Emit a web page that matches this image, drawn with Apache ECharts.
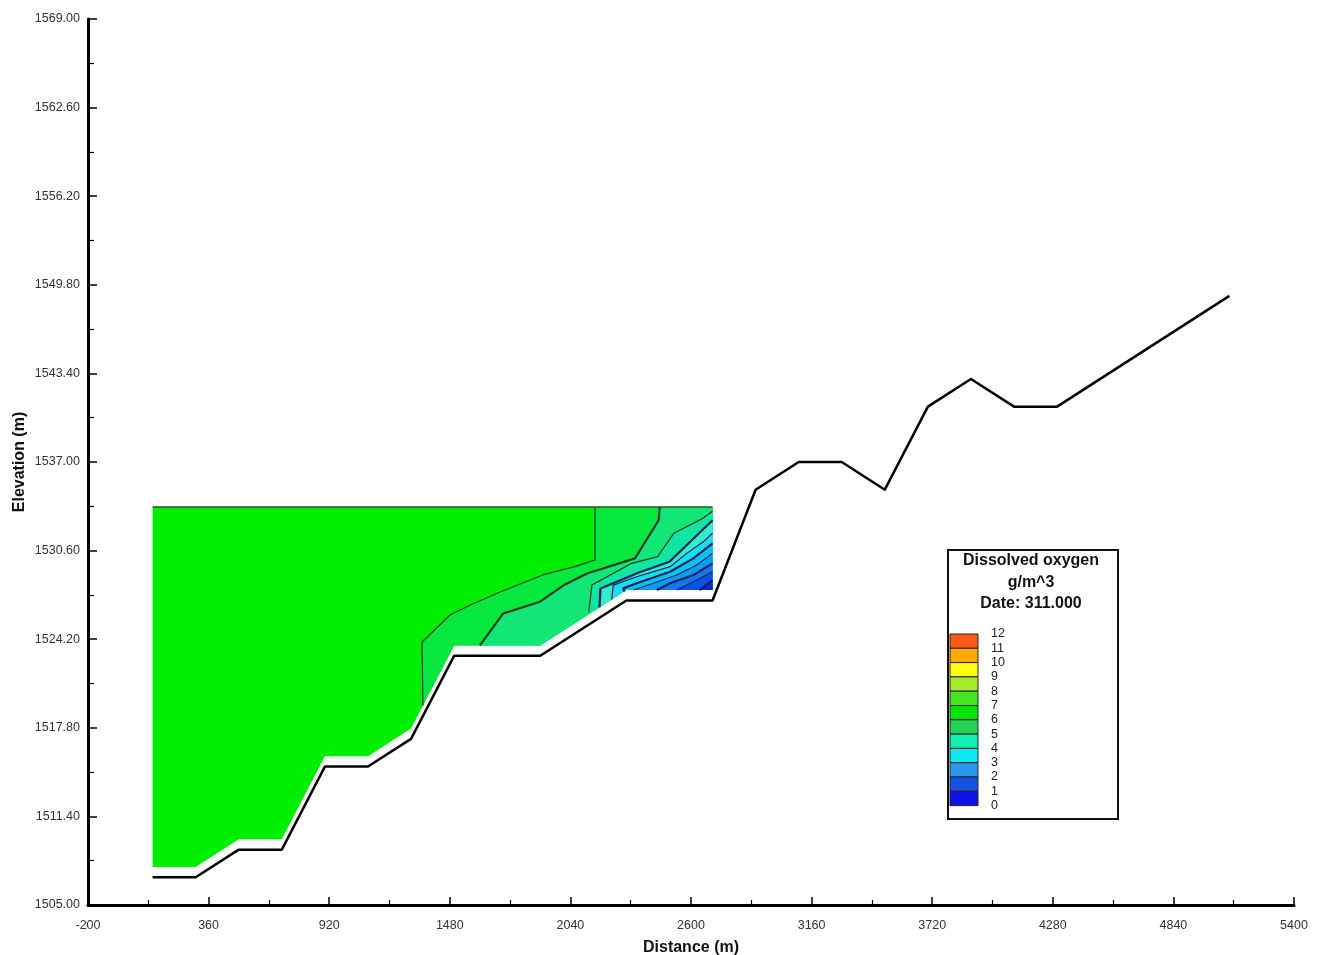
<!DOCTYPE html>
<html>
<head>
<meta charset="utf-8">
<script src="https://cdn.jsdelivr.net/npm/echarts@6/dist/echarts.min.js"></script>
<style>
  html, body { margin: 0; padding: 0; background: #ffffff; }
  #chart { width: 1319px; height: 955px; }
</style>
</head>
<body>
<div id="chart"></div>
<script>
// Longitudinal bed profile of the reservoir (distance m, elevation m)
const bedDistance  = [100, 300, 500, 700, 900, 1100, 1300, 1500, 1900, 2300, 2700, 2900, 3100, 3300, 3500, 3700, 3900, 4100, 4300, 5100];
const bedElevation = [1507, 1507, 1509, 1509, 1515, 1515, 1517, 1523, 1523, 1527, 1527, 1535, 1537, 1537, 1535, 1541, 1543, 1541, 1541, 1549];

// Wetted section: water surface and bottom of the active cells
const waterSurface = 1533.75;
const cellBottomDistance  = [100, 300, 500, 700, 900, 1100, 1300, 1500, 1900, 2300, 2700];
const cellBottomElevation = [1507.75, 1507.75, 1509.75, 1509.75, 1515.75, 1515.75, 1517.75, 1523.75, 1523.75, 1527.75, 1527.75];

// Dissolved oxygen isolines (g/m^3): level, distance and elevation of each vertex
const contourLevels = [6.5, 6, 5.5, 5, 4.5, 4, 3.5, 3, 2.5, 2];
const contourX = [
  [2154, 2154, 2060, 1915, 1713, 1575, 1481, 1351, 1355],
  [2455, 2450, 2340, 2195, 2120, 2010, 1899, 1728, 1620],
  [2700, 2655, 2520, 2445, 2325, 2140, 2125],
  [2700, 2500, 2355, 2180, 2175],
  [2700, 2657, 2580, 2503, 2348, 2239, 2232],
  [2700, 2611, 2503, 2348, 2286, 2290],
  [2700, 2627, 2534, 2425, 2332],
  [2700, 2611, 2503, 2441],
  [2700, 2627, 2534],
  [2700, 2640]
];
const contourY = [
  [1533.75, 1529.92, 1529.44, 1528.86, 1527.61, 1526.67, 1525.95, 1524.0, 1519.4],
  [1533.75, 1532.79, 1530.04, 1529.32, 1528.96, 1528.11, 1526.91, 1526.06, 1523.75],
  [1533.45, 1532.93, 1531.85, 1530.16, 1529.68, 1528.11, 1526.15],
  [1532.79, 1529.80, 1529.0, 1527.87, 1526.50],
  [1531.85, 1531.24, 1530.40, 1529.44, 1528.71, 1528.11, 1527.07],
  [1531.13, 1530.04, 1529.07, 1528.24, 1527.87, 1527.65],
  [1530.40, 1529.56, 1528.84, 1528.24, 1527.75],
  [1529.68, 1528.84, 1528.24, 1527.75],
  [1529.07, 1528.47, 1527.75],
  [1528.47, 1527.75]
];

// Axis tick values
const xTicks = [-200, 360, 920, 1480, 2040, 2600, 3160, 3720, 4280, 4840, 5400];
const xMinorTicks = [80, 640, 1200, 1760, 2320, 2880, 3440, 4000, 4560, 5120];
const yTicks = [1505, 1511.4, 1517.8, 1524.2, 1530.6, 1537, 1543.4, 1549.8, 1556.2, 1562.6, 1569];
const yMinorTicks = [1508.2, 1514.6, 1521, 1527.4, 1533.8, 1540.2, 1546.6, 1553, 1559.4, 1565.8];

// Colour legend
const legendTitle = ['Dissolved oxygen', 'g/m^3', 'Date: 311.000'];
const legendLabels = ['12', '11', '10', '9', '8', '7', '6', '5', '4', '3', '2', '1', '0'];
const legendColors = ['#ff5a14', '#ffa800', '#ffff10', '#a8ea2c', '#44e420', '#06e406', '#22d456', '#10eeb0', '#10e8f2', '#2a98ec', '#1452e8', '#1010ea'];

// Flood colours: above the highest isoline, then each band below an isoline
const fieldColor = '#00ee00';
const bandColors = ['#06e83e', '#12e676', '#10e6a2', '#34eccc', '#1adef0', '#0cc2f0', '#0c9cf0', '#1476ea', '#0c50e6', '#0a2ad8'];

const FONT = '"Liberation Sans", Arial, sans-serif';
const rightEdge = cellBottomDistance[cellBottomDistance.length - 1];

function bandPolygon(k) {
  const xs = contourX[k], ys = contourY[k];
  const pts = xs.map((x, i) => [x, ys[i]]);
  const endX = xs[xs.length - 1];
  // follow the cell bottom downstream to the dam face
  for (let i = 0; i < cellBottomDistance.length; i++) {
    if (cellBottomDistance[i] > endX + 1e-6) pts.push([cellBottomDistance[i], cellBottomElevation[i]]);
  }
  // isolines that start on the surface close through the surface corner
  if (ys[0] >= waterSurface - 1e-6) pts.push([rightEdge, waterSurface]);
  return pts;
}

const waterPolygon = [[cellBottomDistance[0], waterSurface]]
  .concat(cellBottomDistance.map((x, i) => [x, cellBottomElevation[i]]))
  .concat([[rightEdge, waterSurface]]);

function renderFlood(params, api) {
  const c = p => api.coord(p);
  const children = [];
  children.push({ type: 'polygon', shape: { points: waterPolygon.map(c) }, style: { fill: fieldColor } });
  contourLevels.forEach((lv, k) => {
    children.push({ type: 'polygon', shape: { points: bandPolygon(k).map(c) }, style: { fill: bandColors[k] } });
  });
  contourLevels.forEach((lv, k) => {
    const major = Number.isInteger(lv);
    const stroke = lv >= 5.5 ? '#163a22' : '#0a2460';
    children.push({
      type: 'polyline',
      shape: { points: contourX[k].map((x, i) => c([x, contourY[k][i]])) },
      style: { stroke: stroke, lineWidth: major ? 2.2 : 1.2, fill: null, lineJoin: 'round' }
    });
  });
  children.push({
    type: 'polyline',
    shape: { points: [c([cellBottomDistance[0], waterSurface]), c([rightEdge, waterSurface])] },
    style: { stroke: '#1c5a1c', lineWidth: 1.5, fill: null }
  });
  return { type: 'group', children: children };
}

// Legend graphics
const LX = 947, LY = 549, LW = 170, LH = 269;
const boxX = 950, boxW = 28, boxTop = 634, boxH = 14.3;
const legendGraphics = [
  { type: 'rect', left: LX, top: LY, shape: { width: LW, height: LH }, style: { fill: '#fff', stroke: '#111', lineWidth: 2 }, z: 10 }
];
const titleY = [561, 583, 604];
legendTitle.forEach((t, i) => {
  legendGraphics.push({
    type: 'text', x: LX + LW / 2 - 1, y: titleY[i], z: 11,
    style: { text: t, fontFamily: FONT, fontSize: 16, fontWeight: 'bold', fill: '#111', textAlign: 'center', textVerticalAlign: 'middle' }
  });
});
legendColors.forEach((col, i) => {
  legendGraphics.push({
    type: 'rect', x: boxX, y: boxTop + i * boxH, z: 11,
    shape: { width: boxW, height: boxH }, style: { fill: col, stroke: '#222', lineWidth: 1 }
  });
});
legendLabels.forEach((t, i) => {
  legendGraphics.push({
    type: 'text', x: 991, y: boxTop + i * boxH, z: 11,
    style: { text: t, fontFamily: FONT, fontSize: 12.5, fill: '#222', textAlign: 'left', textVerticalAlign: 'middle' }
  });
});

const chart = echarts.init(document.getElementById('chart'), null, { renderer: 'canvas' });

const axisFont = { fontFamily: FONT, fontSize: 12.5, color: '#333' };
const nameFont = { fontFamily: FONT, fontSize: 16, fontWeight: 'bold', color: '#111' };

chart.setOption({
  animation: false,
  backgroundColor: '#ffffff',
  grid: { left: 88, right: 25, top: 19, bottom: 50, containLabel: false, outerBoundsMode: 'none' },
  xAxis: [
    {
      type: 'value', min: -200, max: 5400, position: 'bottom',
      name: 'Distance (m)', nameLocation: 'middle', nameGap: 35, nameTextStyle: nameFont,
      axisLine: { show: true, onZero: false, lineStyle: { color: '#000', width: 3 } },
      axisTick: { show: true, inside: true, length: 8, customValues: xTicks, lineStyle: { color: '#000', width: 1.5 } },
      axisLabel: { show: true, customValues: xTicks, margin: 14, formatter: v => String(v), ...axisFont },
      splitLine: { show: false }
    },
    {
      type: 'value', min: -200, max: 5400, position: 'bottom',
      axisLine: { show: false, onZero: false },
      axisTick: { show: true, inside: true, length: 5, customValues: xMinorTicks, lineStyle: { color: '#000', width: 1.2 } },
      axisLabel: { show: false },
      splitLine: { show: false }
    }
  ],
  yAxis: [
    {
      type: 'value', min: 1505, max: 1569, position: 'left',
      name: 'Elevation (m)', nameLocation: 'middle', nameGap: 60, nameRotate: 90, nameMoveOverlap: false, nameTextStyle: nameFont,
      axisLine: { show: true, onZero: false, lineStyle: { color: '#000', width: 3 } },
      axisTick: { show: true, inside: true, length: 9, customValues: yTicks, lineStyle: { color: '#000', width: 1.5 } },
      axisLabel: { show: true, customValues: yTicks, margin: 8, formatter: v => Number(v).toFixed(2), ...axisFont },
      splitLine: { show: false }
    },
    {
      type: 'value', min: 1505, max: 1569, position: 'left',
      axisLine: { show: false, onZero: false },
      axisTick: { show: true, inside: true, length: 6, customValues: yMinorTicks, lineStyle: { color: '#000', width: 1.2 } },
      axisLabel: { show: false },
      splitLine: { show: false }
    }
  ],
  series: [
    {
      type: 'custom', name: 'Dissolved oxygen', xAxisIndex: 0, yAxisIndex: 0,
      data: [[cellBottomDistance[0], waterSurface]], silent: true, z: 2,
      renderItem: renderFlood
    },
    {
      type: 'line', name: 'Bed', xAxisIndex: 0, yAxisIndex: 0, z: 5,
      data: bedDistance.map((x, i) => [x, bedElevation[i]]),
      symbol: 'none', silent: true,
      lineStyle: { color: '#000', width: 2.5, join: 'round' }
    }
  ],
  graphic: legendGraphics
});
</script>
</body>
</html>
